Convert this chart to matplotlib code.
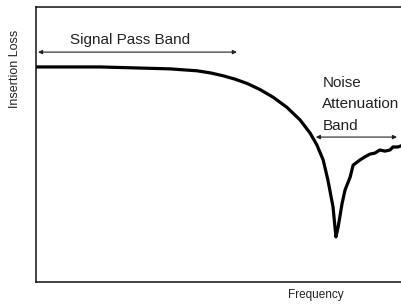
import matplotlib
matplotlib.use("Agg")
import matplotlib.pyplot as plt

# curve (frequency in %, insertion loss in arbitrary units, higher = less loss)
freq = [0, 17.6, 25.9, 36.8, 44.2, 48.0, 51.3, 54.5, 57.9, 61.4, 65.0, 68.8,
        72.4, 75.1, 77.0, 78.7, 80.0, 81.4, 81.9, 82.2, 82.8, 83.9, 84.7,
        86.1, 86.9, 88.8, 90.1, 91.5, 92.9, 94.2, 95.6, 97.0, 97.8, 99.2, 100]
loss = [78.2, 78.2, 77.9, 77.5, 76.8, 76.0, 75.0, 73.8, 72.2, 70.0, 67.2, 63.5,
        58.9, 54.2, 49.8, 44.4, 37.1, 27.3, 20.5, 16.4, 20.0, 28.7, 33.5,
        38.2, 42.5, 44.4, 45.5, 46.5, 46.9, 48.0, 47.6, 48.0, 49.1, 49.1, 49.5]

pass_band = (0.7, 55.1)
pass_y = 83.6
noise_band = (76.7, 98.9)
noise_y = 52.7

plt.rcParams["font.family"] = ["Liberation Sans", "DejaVu Sans"]

fig = plt.figure(figsize=(4.01, 3.04), dpi=100)
ax = fig.add_axes([35.5 / 401, 22 / 304, 1 - 35.5 / 401, 275 / 304])

ax.plot(freq, loss, color="black", linewidth=2.3, solid_joinstyle="round")

ax.set_xlim(0, 100)
ax.set_ylim(0, 100)
ax.set_xticks([])
ax.set_yticks([])
ax.spines["right"].set_visible(False)
for s in ["left", "top", "bottom"]:
    ax.spines[s].set_linewidth(1.1)
    ax.spines[s].set_color("#111111")

arrow = dict(arrowstyle="<|-|>", color="#222222", lw=0.8,
             mutation_scale=6, shrinkA=0, shrinkB=0)
ax.annotate("", xy=(pass_band[0], pass_y), xytext=(pass_band[1], pass_y),
            arrowprops=arrow)
ax.annotate("", xy=(noise_band[0], noise_y), xytext=(noise_band[1], noise_y),
            arrowprops=arrow)

ax.text(26.0, 86.5, "Signal Pass Band", fontsize=11, color="#222222",
        ha="center", va="baseline")
ax.text(78.5, 55.3, "Noise\nAttenuation\nBand", fontsize=11, color="#222222",
        ha="left", va="baseline", linespacing=1.68)

fig.text(15 / 401, 1 - 69 / 304, "Insertion Loss", rotation=90, fontsize=9,
         color="#222222", ha="center", va="center")
fig.text(316 / 401, 1 - 295 / 304, "Frequency", fontsize=8.5, color="#222222",
         ha="center", va="center")

fig.savefig("out.png", dpi=100)
